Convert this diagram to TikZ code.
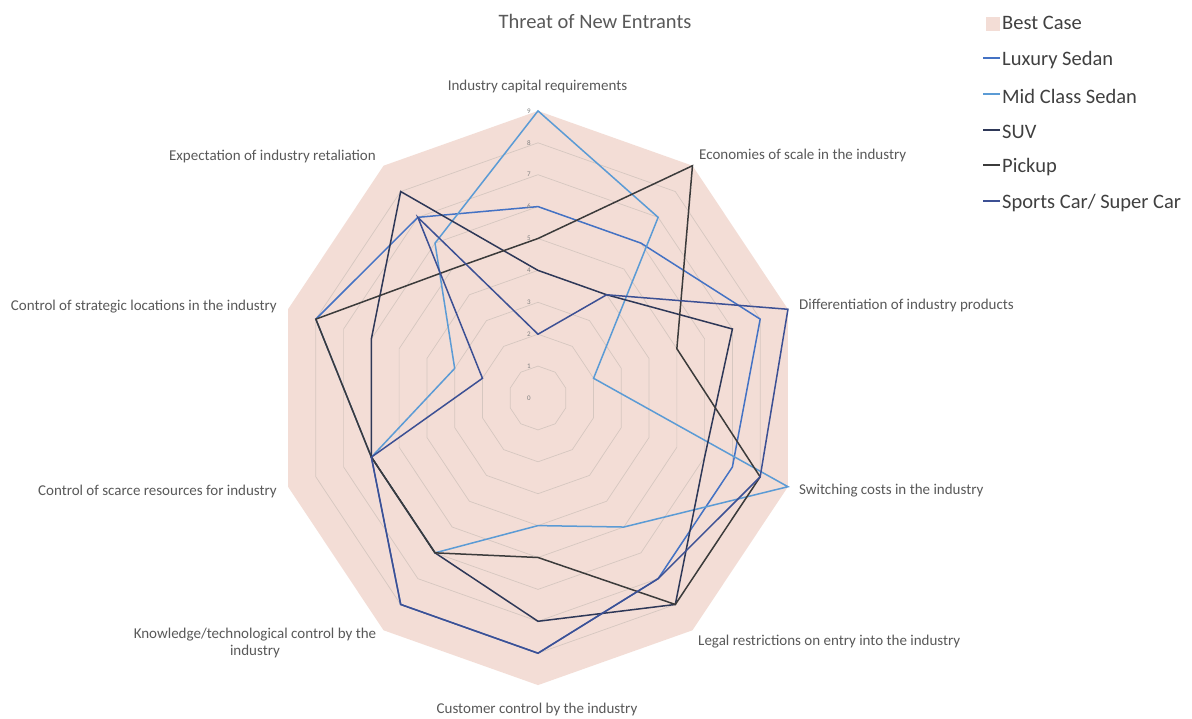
\documentclass[tikz,border=0pt]{standalone}
\usepackage{fontspec}
\setmainfont{Carlito}
\definecolor{bestfill}{RGB}{243,221,214}
\definecolor{ringcol}{RGB}{214,199,192}
\definecolor{labelgray}{RGB}{89,89,89}
\definecolor{legendgray}{RGB}{64,64,64}
\definecolor{luxcol}{RGB}{68,114,196}
\definecolor{midcol}{RGB}{91,155,213}
\definecolor{suvcol}{RGB}{46,56,88}
\definecolor{pickcol}{RGB}{59,59,59}
\definecolor{sportcol}{RGB}{60,80,148}
\begin{document}
\begin{tikzpicture}[x=1pt,y=1pt,
  axislabel/.style={font=\fontsize{15}{17}\selectfont, text=labelgray, inner sep=0pt},
  ticklabel/.style={font=\fontsize{7}{8}\selectfont, text=gray, inner sep=0pt},
  legendtext/.style={font=\fontsize{20.5}{23}\selectfont, text=legendgray, inner sep=0pt, anchor=west},
  ring/.style={draw=ringcol, line width=0.7pt},
  series/.style={line width=1.5pt, line join=miter}]
\useasboundingbox (0,0) rectangle (1192,718);
\fill[white] (0,0) rectangle (1192,718);

% radar grid and series, one unit per score step
\begin{scope}[shift={(538,320)}, xscale=29.2, yscale=31.9]
  \fill[bestfill] (90:9) -- (54:9) -- (18:9) -- (-18:9) -- (-54:9) -- (-90:9)
    -- (-126:9) -- (-162:9) -- (162:9) -- (126:9) -- cycle;
  \foreach \r in {1,...,8}
    \draw[ring] (90:\r) -- (54:\r) -- (18:\r) -- (-18:\r) -- (-54:\r) -- (-90:\r)
      -- (-126:\r) -- (-162:\r) -- (162:\r) -- (126:\r) -- cycle;
  % Luxury Sedan
  \draw[series, luxcol] (90:6) -- (54:6) -- (18:8) -- (-18:7) -- (-54:7) -- (-90:8)
    -- (-126:8) -- (-162:6) -- (162:8) -- (126:7) -- cycle;
  % Mid Class Sedan
  \draw[series, midcol] (90:9) -- (54:7) -- (18:2) -- (-18:9) -- (-54:5) -- (-90:4)
    -- (-126:6) -- (-162:6) -- (162:3) -- (126:6) -- cycle;
  % SUV
  \draw[series, suvcol] (90:4) -- (54:4) -- (18:7) -- (-18:6) -- (-54:8) -- (-90:7)
    -- (-126:6) -- (-162:6) -- (162:6) -- (126:8) -- cycle;
  % Pickup
  \draw[series, pickcol] (90:5) -- (54:9) -- (18:5) -- (-18:8) -- (-54:8) -- (-90:5)
    -- (-126:6) -- (-162:6) -- (162:8) -- (126:5) -- cycle;
  % Sports Car / Super Car
  \draw[series, sportcol] (90:2) -- (54:4) -- (18:9) -- (-18:8) -- (-54:7) -- (-90:8)
    -- (-126:8) -- (-162:6) -- (162:2) -- (126:7) -- cycle;
\end{scope}

% scale values along the top axis
\foreach \v in {0,...,9}
  \node[ticklabel] (tick\v) at (529, 320+31.9*\v) {\v};

% title
\node[font=\fontsize{20.5}{23}\selectfont, text=labelgray, inner sep=0pt] (title) at (595,697) {Threat of New Entrants};

% axis labels
\node[axislabel] (ax0) at (537.5,631) {Industry capital requirements};
\node[axislabel, anchor=west] (ax1) at (699,562) {Economies of scale in the industry};
\node[axislabel, anchor=west] (ax2) at (799,412) {Differentiation of industry products};
\node[axislabel, anchor=west] (ax3) at (799,227) {Switching costs in the industry};
\node[axislabel, anchor=west] (ax4) at (698,76) {Legal restrictions on entry into the industry};
\node[axislabel] (ax5) at (537,8) {Customer control by the industry};
\node[axislabel, align=center] (ax6) at (255,75) {Knowledge/technological control by the\\industry};
\node[axislabel, anchor=east] (ax7) at (277,226) {Control of scarce resources for industry};
\node[axislabel, anchor=east] (ax8) at (277,411) {Control of strategic locations in the industry};
\node[axislabel, anchor=east] (ax9) at (376,561) {Expectation of industry retaliation};

% legend
\fill[bestfill] (986,687) rectangle (1000,701);
\node[legendtext] (lg0) at (1002,695) {Best Case};
\draw[luxcol, line width=1.2pt] (983,660) -- (1000,660);
\node[legendtext] (lg1) at (1002,658) {Luxury Sedan};
\draw[midcol, line width=1.2pt] (983,624) -- (1000,624);
\node[legendtext] (lg2) at (1002,622) {Mid Class Sedan};
\draw[suvcol, line width=1.2pt] (983,588) -- (1000,588);
\node[legendtext] (lg3) at (1002,586) {SUV};
\draw[pickcol, line width=1.2pt] (983,553) -- (1000,553);
\node[legendtext] (lg4) at (1002,551) {Pickup};
\draw[sportcol, line width=1.2pt] (983,517) -- (1000,517);
\node[legendtext] (lg5) at (1002,515) {Sports Car/ Super Car};
\end{tikzpicture}
\end{document}
